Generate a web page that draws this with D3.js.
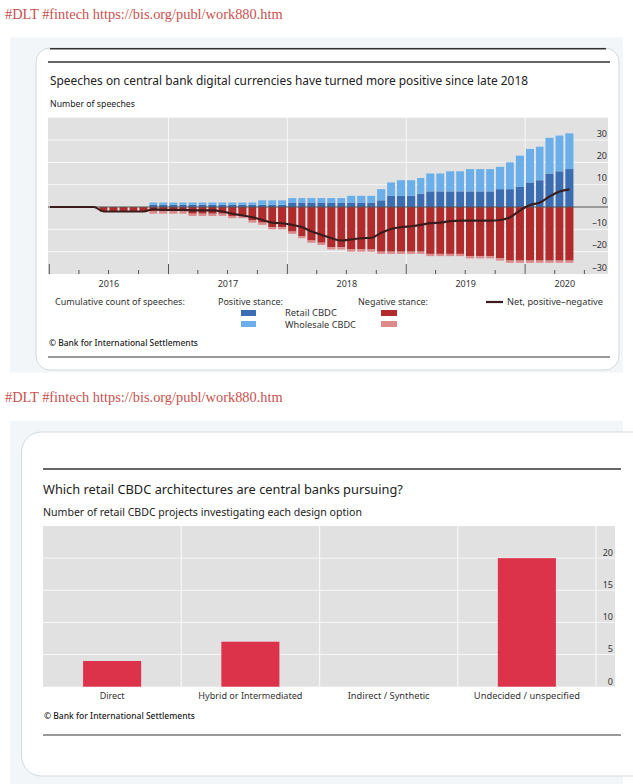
<!DOCTYPE html>
<html><head><meta charset="utf-8">
<script src="https://cdn.jsdelivr.net/npm/d3@7"></script>
<style>
html,body{margin:0;padding:0;background:#fff;}
svg{display:block;}
</style></head>
<body>
<svg id="c" width="633" height="784"></svg>
<script>
// ---------------- DATA ----------------
const headerText = "#DLT #fintech https://bis.org/publ/work880.htm";

// Chart 1: cumulative count of speeches (monthly)
const barMonths = ["2016-06","2016-07","2016-08","2016-09","2016-10","2016-11","2016-12",
  "2017-01","2017-02","2017-03","2017-04","2017-05","2017-06","2017-07","2017-08","2017-09","2017-10","2017-11","2017-12",
  "2018-01","2018-02","2018-03","2018-04","2018-05","2018-06","2018-07","2018-08","2018-09","2018-10","2018-11","2018-12",
  "2019-01","2019-02","2019-03","2019-04","2019-05","2019-06","2019-07","2019-08","2019-09","2019-10","2019-11","2019-12",
  "2020-01","2020-02","2020-03","2020-04","2020-05"];
const retailPositive = [0,0,0,0,0, 1,1,1,1,1,1,1,1,1,1,1,1,1,1, 2,2,2,2,2,2,2,2,2, 3, 5,5,5, 6, 7,7,7,7,7,7,7, 8,8, 9, 11, 12, 15, 16, 17];
const wholesalePositive = [0,0,0,0,0, 1,1,1,1,1,1,1,1,1,1,1, 2,2,2, 2,2,2,2,2,2, 3,3,3, 5, 6, 7,7, 7, 8,8, 9,9, 10,10,10, 10, 12, 14, 15, 15, 16, 16, 16];
const retailNegative = [2,2,2,2,2, 2,2,2,2, 3,3,3,3, 4,4, 6, 7, 9,9, 11, 13, 15, 16, 18,18, 19,19,19, 20,20,20,20,20, 21,21,21,21, 22,22,22, 23, 24,24,24,24,24,24,24];
const wholesaleNegative = [0,0,0,0,0, 1,1,1,1,1,1,1,1,1,1,1,1,1,1, 1,1,1,1,1,1,1,1,1,1,1,1, 1,1,1,1,1,1,1,1,1,1,1,1, 1,1,1,1,1];
const netMonths = ["2016-01","2016-02","2016-03","2016-04","2016-05"].concat(barMonths);
const netValues = [0,0,0,0,0, -2,-2,-2,-2,-2, -1,-1.3,-1.3,-1.3,-1.5,-1.5,-1.5,-2,-3,-3.8,-4.6,-5.8,-7,-7.3,
  -8,-9,-11,-12.5,-14,-15,-14.5,-14,-13.8,-11.5,-9.8,-9,
  -8.6,-8,-7.2,-7,-6.3,-6.1,-6.1,-6.1,-6.1,-5.8,-4.6,-1.5,
  0.9,2,4.8,7,7.9];
const yTicks1 = [30,20,10,0,-10,-20,-30];
const years1 = [2016,2017,2018,2019,2020];

// Chart 2: retail CBDC architectures
const categories2 = ["Direct","Hybrid or Intermediated","Indirect / Synthetic","Undecided / unspecified"];
const projects2 = [4,7,0,20];
const yTicks2 = [0,5,10,15,20];

// ---------------- HELPERS ----------------
const SANS = "'Noto Sans','Open Sans','DejaVu Sans',sans-serif";
const SERIF = "'Liberation Serif','DejaVu Serif',serif";
const svg = d3.select("#c");
function addText(p, o){
  const t = p.append("text").attr("x",o.x).attr("y",o.y)
    .attr("font-family",o.family||SANS).attr("font-size",o.size)
    .attr("font-weight",o.weight||400).attr("fill",o.fill||"#333")
    .attr("text-anchor",o.anchor||"start").text(o.text);
  if(o.width){ const w=t.node().getComputedTextLength(); if(w>0) t.attr("font-size",(o.size*o.width/w).toFixed(2)); }
  return t;
}
function hline(p,x1,x2,y,c,w){ p.append("line").attr("x1",x1).attr("x2",x2).attr("y1",y).attr("y2",y).attr("stroke",c).attr("stroke-width",w); }

// ---------------- PAGE ----------------
addText(svg,{x:5,y:19,text:headerText,size:15,family:SERIF,fill:"#c8514e",width:278});
svg.append("rect").attr("x",10).attr("y",37.5).attr("width",613).attr("height",335).attr("fill","#f3f6f9");
svg.append("rect").attr("x",36).attr("y",48).attr("width",583).attr("height",322).attr("rx",14)
  .attr("fill","#fff").attr("stroke","#d3d9de").attr("stroke-width",1);
hline(svg,50,606,48.7,"#333",1.4);

addText(svg,{x:5,y:402,text:headerText,size:15,family:SERIF,fill:"#c8514e",width:278});
svg.append("rect").attr("x",10).attr("y",421).attr("width",613).attr("height",363).attr("fill","#f3f6f9");
svg.append("rect").attr("x",21.5).attr("y",432).attr("width",640).attr("height",344).attr("rx",20)
  .attr("fill","#fff").attr("stroke","#d3d9de").attr("stroke-width",1);

// ---------------- CHART 1 ----------------
const g1 = svg.append("g");
const parseM = d3.timeParse("%Y-%m");
const x1 = d3.scaleTime().domain([new Date(2016,0,1), new Date(2020,8,1)]).range([49.3,604.6]);
const y1 = d3.scaleLinear().domain([-30,40]).range([274,117.7]);
const PL=48, PR=608;

hline(g1,48,610,62,"#666",2);
addText(g1,{x:50,y:84.5,text:"Speeches on central bank digital currencies have turned more positive since late 2018",size:12.5,fill:"#222",width:478});
addText(g1,{x:50,y:106.5,text:"Number of speeches",size:9.5,fill:"#222",width:85});

g1.append("rect").attr("x",PL).attr("y",y1(40)).attr("width",PR-PL).attr("height",y1(-30)-y1(40)).attr("fill","#e1e1e1");
g1.selectAll(".hg").data(yTicks1.filter(v=>v!==0 && v!==-30)).join("line")
  .attr("x1",PL).attr("x2",PR).attr("y1",d=>y1(d)).attr("y2",d=>y1(d)).attr("stroke","#f7f7f7").attr("stroke-width",1);
g1.selectAll(".vg").data(years1.slice(1)).join("line")
  .attr("x1",d=>x1(new Date(d,0,1))).attr("x2",d=>x1(new Date(d,0,1)))
  .attr("y1",y1(40)).attr("y2",y1(-30)).attr("stroke","#f7f7f7").attr("stroke-width",1);

const rows = barMonths.map((m,i)=>({m:parseM(m), rp:retailPositive[i], wp:wholesalePositive[i], rn:-retailNegative[i], wn:-wholesaleNegative[i]}));
const stack = d3.stack().keys(["rp","wp","rn","wn"]).offset(d3.stackOffsetDiverging)(rows);
const colors1 = {rp:"#3b6db3", wp:"#6aafea", rn:"#b22b2c", wn:"#dc8a8c"};
stack.forEach(layer=>{
  g1.selectAll(null).data(layer).join("rect")
    .attr("x",d=>x1(d.data.m)+0.8)
    .attr("width",d=>x1(d3.timeMonth.offset(d.data.m,1))-x1(d.data.m)-2.0)
    .attr("y",d=>y1(Math.max(d[0],d[1])))
    .attr("height",d=>Math.abs(y1(d[0])-y1(d[1])))
    .attr("fill",colors1[layer.key]);
});
hline(g1,PL,PR,y1(0),"#555",1.2);

const netPts = netMonths.map((m,i)=>{const d=parseM(m); return [(x1(d)+x1(d3.timeMonth.offset(d,1)))/2, y1(netValues[i])];});
netPts.unshift([x1(new Date(2016,0,1))+0.7, y1(netValues[0])]);
g1.append("path").attr("d",d3.line().curve(d3.curveMonotoneX)(netPts))
  .attr("fill","none").attr("stroke","#3a1c1c").attr("stroke-width",2.1);

const quarters = d3.timeMonth.every(3).range(new Date(2016,0,1), new Date(2020,8,2));
g1.selectAll(".tk").data(quarters).join("line")
  .attr("x1",d=>x1(d)).attr("x2",d=>x1(d))
  .attr("y1",d=>d.getMonth()===0?y1(-30)-10:y1(-30)-4).attr("y2",y1(-30))
  .attr("stroke","#555").attr("stroke-width",1);
const xEnd = x1.domain()[1], xStart = x1.domain()[0];
years1.forEach(yr=>{
  const a = new Date(Math.max(xStart,new Date(yr,0,1))), b = new Date(Math.min(xEnd,new Date(yr+1,0,1)));
  addText(g1,{x:(x1(a)+x1(b))/2,y:286.5,text:String(yr),size:9,anchor:"middle"});
});
yTicks1.forEach(v=>{
  addText(g1,{x:607,y:y1(v)-3.3,text:v<0?"\u2013"+Math.abs(v):String(v),size:9,anchor:"end"});
});

addText(g1,{x:55,y:305,text:"Cumulative count of speeches:",size:9,width:130});
addText(g1,{x:218,y:305,text:"Positive stance:",size:9,width:65});
addText(g1,{x:358,y:305,text:"Negative stance:",size:9,width:70});
hline(g1,486,503,302,"#3a1c1c",2.2);
addText(g1,{x:507,y:305,text:"Net, positive\u2013negative",size:9,width:96});
g1.append("rect").attr("x",241).attr("y",310).attr("width",15).attr("height",6).attr("fill",colors1.rp);
g1.append("rect").attr("x",241).attr("y",321).attr("width",15).attr("height",6).attr("fill",colors1.wp);
g1.append("rect").attr("x",381).attr("y",310).attr("width",16).attr("height",6).attr("fill",colors1.rn);
g1.append("rect").attr("x",381).attr("y",321).attr("width",16).attr("height",6).attr("fill",colors1.wn);
addText(g1,{x:285,y:316,text:"Retail CBDC",size:9,width:52});
addText(g1,{x:285,y:327.5,text:"Wholesale CBDC",size:9,width:71});
addText(g1,{x:49,y:346,text:"\u00a9 Bank for International Settlements",size:8,weight:500,fill:"#222",width:149});
hline(g1,48,610,357,"#777",1.6);

// ---------------- CHART 2 ----------------
const g2 = svg.append("g");
const x2 = d3.scaleBand().domain(categories2).range([43,596]).paddingInner(0).paddingOuter(0);
const y2 = d3.scaleLinear().domain([0,25]).range([686.7,526]);

hline(g2,43,621,469,"#666",2);
addText(g2,{x:43,y:493.5,text:"Which retail CBDC architectures are central banks pursuing?",size:13,fill:"#222",width:360});
addText(g2,{x:43,y:515.5,text:"Number of retail CBDC projects investigating each design option",size:9.5,fill:"#222",width:319});

g2.append("rect").attr("x",43).attr("y",y2(25)).attr("width",615-43).attr("height",y2(0)-y2(25)).attr("fill","#e1e1e1");
g2.selectAll(".hg").data(yTicks2.filter(v=>v>0)).join("line")
  .attr("x1",43).attr("x2",615).attr("y1",d=>y2(d)).attr("y2",d=>y2(d)).attr("stroke","#f7f7f7").attr("stroke-width",1);
g2.selectAll(".vg").data(categories2.slice(1).concat(["__end"])).join("line")
  .attr("x1",d=>d==="__end"?x2.range()[1]:x2(d)).attr("x2",d=>d==="__end"?x2.range()[1]:x2(d))
  .attr("y1",y2(25)).attr("y2",y2(0)).attr("stroke","#f7f7f7").attr("stroke-width",1.2);
const bw = x2.bandwidth()*0.42;
g2.selectAll(".bar").data(categories2).join("rect")
  .attr("x",d=>x2(d)+x2.bandwidth()/2-bw/2).attr("width",bw)
  .attr("y",(d,i)=>y2(projects2[i])).attr("height",(d,i)=>y2(0)-y2(projects2[i]))
  .attr("fill","#dc334b");
yTicks2.forEach(v=>{
  addText(g2,{x:613,y:y2(v)-2.2,text:String(v),size:9,anchor:"end"});
});
const catW = [25,104,82,106];
categories2.forEach((c,i)=>{
  addText(g2,{x:x2(c)+x2.bandwidth()/2,y:698.5,text:c,size:9.5,anchor:"middle",width:catW[i]});
});
addText(g2,{x:44,y:718.5,text:"\u00a9 Bank for International Settlements",size:8,weight:500,fill:"#222",width:151});
hline(g2,43,621,735,"#777",1.6);
</script>
</body></html>
